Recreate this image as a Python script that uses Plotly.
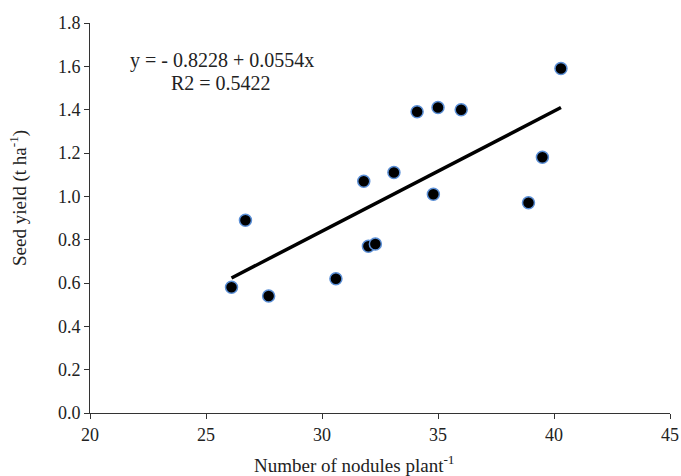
import plotly.graph_objects as go

# Data
nodules = [26.1, 26.7, 27.7, 30.6, 31.8, 32.0, 32.3, 33.1, 34.1, 34.8, 35.0, 36.0, 38.9, 39.5, 40.3]
seed_yield = [0.58, 0.89, 0.54, 0.62, 1.07, 0.77, 0.78, 1.11, 1.39, 1.01, 1.41, 1.40, 0.97, 1.18, 1.59]
intercept = -0.8228
slope = 0.0554
eq_text = "y = - 0.8228 + 0.0554x"
r2_text = "R2 = 0.5422"
x_ticks = [20, 25, 30, 35, 40, 45]
y_ticks = [0.0, 0.2, 0.4, 0.6, 0.8, 1.0, 1.2, 1.4, 1.6, 1.8]

FONT = "Liberation Serif, Times New Roman, serif"

trend_x = [min(nodules), max(nodules)]
trend_y = [intercept + slope * v for v in trend_x]

fig = go.Figure()
fig.add_trace(go.Scatter(
    x=trend_x, y=trend_y, mode="lines",
    line=dict(color="black", width=3.5), showlegend=False, hoverinfo="skip"))
fig.add_trace(go.Scatter(
    x=nodules, y=seed_yield, mode="markers",
    marker=dict(color="black", size=12, line=dict(color="#5b8fd6", width=1.5)),
    showlegend=False))

W, H = 681, 476
L, R, T, B = 90, 11, 23, 63
pw = W - L - R
ph = H - T - B

def px_x(p):
    return (p - L) / pw

def px_y(p):
    return 1 - (p - T) / ph

fig.update_layout(
    width=W, height=H,
    margin=dict(l=L, r=R, t=T, b=B, autoexpand=False),
    paper_bgcolor="white", plot_bgcolor="white",
    font=dict(family=FONT, size=18, color="#222"),
    xaxis=dict(range=[20, 45], tickvals=x_ticks, ticktext=[str(v) for v in x_ticks],
               automargin=False, ticklabeloverflow="allow",
               showgrid=False, zeroline=False, showline=True, linecolor="#333", linewidth=1,
               ticks="outside", ticklen=5, tickcolor="#333", tickfont=dict(size=18, family=FONT)),
    yaxis=dict(range=[0, 1.8], tickvals=y_ticks, ticktext=[f"{v:.1f}" for v in y_ticks],
               automargin=False,
               showgrid=False, zeroline=False, showline=True, linecolor="#333", linewidth=1,
               ticks="outside", ticklen=5, tickcolor="#333", tickfont=dict(size=18, family=FONT)),
    annotations=[
        dict(text=eq_text, xref="paper", yref="paper", x=px_x(128), y=px_y(61),
             xanchor="left", yanchor="middle", showarrow=False, font=dict(size=20, family=FONT, color="#222")),
        dict(text=r2_text, xref="paper", yref="paper", x=px_x(169), y=px_y(83),
             xanchor="left", yanchor="middle", showarrow=False, font=dict(size=20, family=FONT, color="#222")),
        dict(text="Number of nodules plant<sup>-1</sup>", xref="paper", yref="paper",
             x=px_x(354), y=px_y(464), xanchor="center", yanchor="middle", showarrow=False,
             font=dict(size=19, family=FONT, color="#222")),
        dict(text="Seed yield (t ha<sup>-1</sup>)", xref="paper", yref="paper",
             x=px_x(19), y=px_y(198), xanchor="center", yanchor="middle", textangle=-90,
             showarrow=False, font=dict(size=19, family=FONT, color="#222")),
    ],
)

fig.write_html("out.html", config={"displayModeBar": False},
               post_script="document.body.style.margin='0';document.body.style.overflow='hidden';")
